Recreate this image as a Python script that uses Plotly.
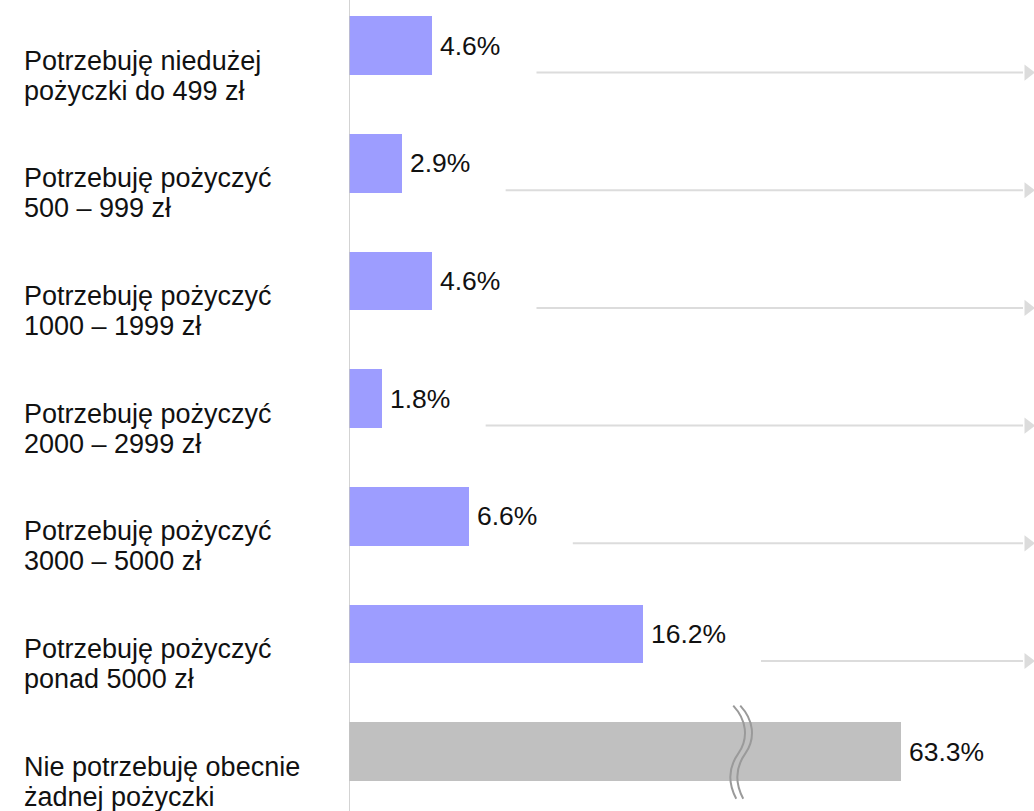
import plotly.graph_objects as go

# ---- data ----
categories = [
    "Potrzebuję niedużej<br>pożyczki do 499 zł",
    "Potrzebuję pożyczyć<br>500 – 999 zł",
    "Potrzebuję pożyczyć<br>1000 – 1999 zł",
    "Potrzebuję pożyczyć<br>2000 – 2999 zł",
    "Potrzebuję pożyczyć<br>3000 – 5000 zł",
    "Potrzebuję pożyczyć<br>ponad 5000 zł",
    "Nie potrzebuję obecnie<br>żadnej pożyczki",
]
values = [4.6, 2.9, 4.6, 1.8, 6.6, 16.2, 63.3]
value_labels = ["4.6%", "2.9%", "4.6%", "1.8%", "6.6%", "16.2%", "63.3%"]
has_arrow = [True, True, True, True, True, True, False]

# ---- axis / style settings ----
W, H = 1034, 811
ML = 349
XMAX = 37.74                 # visible x extent (percent units)
Y_RANGE = [6.504, -0.387]    # reversed: first category on top
BREAK_START = 21.5           # where the axis break squiggle sits
BREAK_GAP = 32.9             # amount of the axis cut out by the break

PURPLE = "#9d9dff"
GREY_BAR = "#c0c0c0"
ARROW = "#dcdcdc"
FONT = "Liberation Sans, Arial, sans-serif"

px_per_x = (W - ML) / XMAX
px_per_y = H / (Y_RANGE[0] - Y_RANGE[1])

rows = list(range(len(values)))
plotted = [v - BREAK_GAP if v > BREAK_START + BREAK_GAP else v for v in values]
colors = [GREY_BAR if v > BREAK_START + BREAK_GAP else PURPLE for v in values]

fig = go.Figure()
fig.add_trace(go.Bar(
    x=plotted, y=rows, orientation="h", width=0.5,
    marker=dict(color=colors, line=dict(width=0)),
    hoverinfo="skip", showlegend=False,
))

annotations = []
shapes = []

# value labels
for r, p, t in zip(rows, plotted, value_labels):
    annotations.append(dict(
        x=p, y=r, xref="x", yref="y", text=t, showarrow=False,
        xanchor="left", yanchor="middle", xshift=6,
        font=dict(family=FONT, size=26.5, color="#111111"),
    ))

# category labels (two lines each, custom line spacing)
for r, c in zip(rows, categories):
    lines = c.split("<br>")
    for k, ln in enumerate(lines):
        annotations.append(dict(
            x=(22 - ML) / (W - ML), xref="paper", y=r, yref="y",
            text=ln, showarrow=False, xanchor="left", yanchor="middle",
            yshift=-(15 + 30 * k),
            font=dict(family=FONT, size=27, color="#111111"),
        ))

# arrows: shaft as line shapes, heads as triangle markers
head_x, head_y = [], []
for r, p, t, a in zip(rows, plotted, value_labels, has_arrow):
    if not a:
        continue
    start = p + (5.73 if len(t) <= 4 else 6.5)
    yy = r + 27 / px_per_y
    shapes.append(dict(type="line", xref="x", yref="y",
                       x0=start, x1=XMAX - 11 / px_per_x, y0=yy, y1=yy,
                       line=dict(color=ARROW, width=2)))
    head_x.append(XMAX - 6 / px_per_x)
    head_y.append(yy)

fig.add_trace(go.Scatter(
    x=head_x, y=head_y, mode="markers",
    marker=dict(symbol="triangle-right", size=14, color=ARROW, line=dict(width=0)),
    hoverinfo="skip", showlegend=False, cliponaxis=False,
))

# vertical axis line
shapes.append(dict(type="line", xref="x", yref="paper", x0=0, x1=0, y0=0, y1=1,
                   line=dict(color="#c4c4c4", width=1.5)))

# axis break squiggle on broken bar(s)
for r, v in zip(rows, values):
    if v <= BREAK_START + BREAK_GAP:
        continue
    cx, cy = BREAK_START, r

    def P(dx, dy):
        return f"{cx + dx / px_per_x:.4f},{cy + dy / px_per_y:.4f}"
    for off in (0, 7):
        path = (f"M{P(-6 + off, -46)} C{P(7 + off, -32)} {P(10 + off, -14)} {P(-1 + off, 2)} "
                f"C{P(-11 + off, 16)} {P(-12 + off, 30)} {P(-3 + off, 47)}")
        shapes.append(dict(type="path", xref="x", yref="y", path=path,
                           line=dict(color="#9a9a9a", width=2)))

fig.update_layout(
    width=W, height=H,
    margin=dict(l=ML, r=0, t=0, b=0),
    paper_bgcolor="white", plot_bgcolor="white",
    xaxis=dict(range=[0, XMAX], visible=False, fixedrange=True),
    yaxis=dict(range=Y_RANGE, visible=False, fixedrange=True),
    annotations=annotations, shapes=shapes,
    bargap=0, showlegend=False,
)

fig.write_html("out.html",
               config={"displayModeBar": False},
               post_script="document.body.style.margin='0';document.body.style.overflow='hidden';")
